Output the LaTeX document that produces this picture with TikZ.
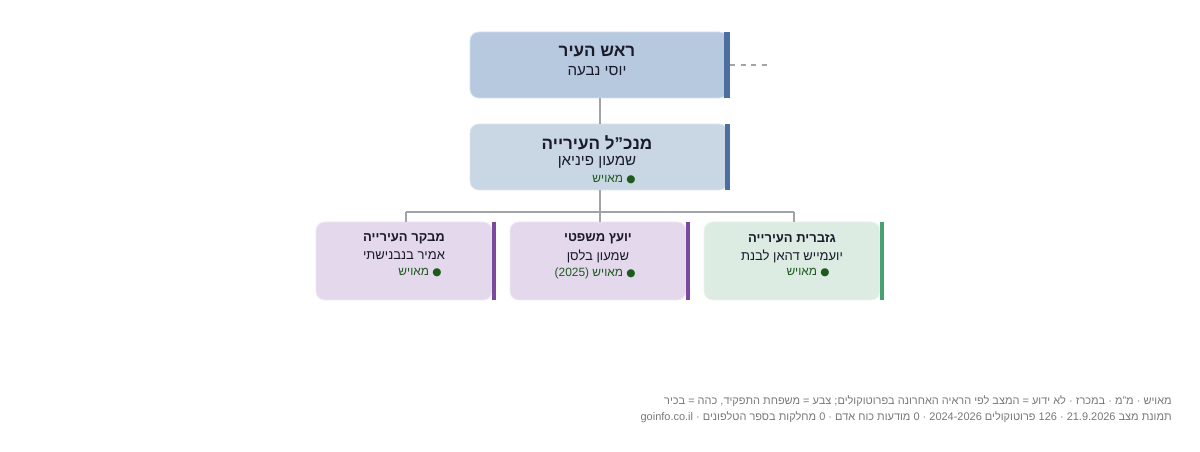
\documentclass[tikz,border=0pt]{standalone}
\usepackage{fontspec}
\setmainfont[Script=Hebrew]{Liberation Sans}
\newfontfamily\symfont{DejaVu Sans}
\TeXXeTstate=1
\newcommand{\heb}[1]{\beginR #1\endR}
\newcommand{\okdot}{{\symfont\fontsize{6}{6}\selectfont ●}}
\definecolor{topfill}{HTML}{B7C9DE}
\definecolor{midfill}{HTML}{C9D6E4}
\definecolor{bluebar}{HTML}{4A6FA0}
\definecolor{purfill}{HTML}{E4D8EC}
\definecolor{purbar}{HTML}{7B4A9E}
\definecolor{grnfill}{HTML}{DCECE2}
\definecolor{grnbar}{HTML}{4AA070}
\definecolor{okgreen}{HTML}{1E5A1E}
\definecolor{linegray}{HTML}{A0A4A8}
\definecolor{txtgray}{HTML}{777777}
\definecolor{ink}{HTML}{1A1A2A}
\begin{document}
\begin{tikzpicture}[x=0.02cm,y=-0.02cm,
  box/.style={draw=#1!60!white,line width=0.5pt,rounded corners=5pt},
  wire/.style={draw=linegray,line width=0.8pt},
  bar/.style={fill=#1,draw=none},
  txt/.style={inner sep=0pt,align=center,text=ink,font=\fontsize{7.4}{9}\selectfont},
  big/.style={inner sep=0pt,text=ink,font=\fontsize{9.7}{11}\selectfont},
  pname/.style={inner sep=0pt,text=ink,font=\fontsize{8.6}{10}\selectfont},
  stat/.style={inner sep=0pt,text=okgreen,font=\fontsize{6.8}{8}\selectfont}]
\useasboundingbox (0,0) rectangle (1200,452);
% top
\filldraw[box=topfill,fill=topfill] (470,32) rectangle (728,98);
\fill[bar=bluebar] (724,32) rectangle (730,98);
\node[big] (maytitle) at (597,52) {\textbf{\heb{ראש העיר}}};
\node[pname] (mayname) at (597,71) {\heb{יוסי נבעה}};
\coordinate (topR) at (730,65);
\coordinate (topRe) at (768,65);
\draw[draw=linegray,dashed,line width=0.8pt] (topR) -- (topRe);
% second
\filldraw[box=midfill,fill=midfill] (470,124) rectangle (728,190);
\fill[bar=bluebar] (725,124) rectangle (730,190);
\node[big] (dgtitle) at (597,143) {\textbf{\heb{מנכ"ל העירייה}}};
\node[pname] (dgname) at (597,162) {\heb{שמעון פיניאן}};
\node[stat,anchor=east] (dgstat) at (636,180) {\heb{\okdot\ מאויש}};
% bottom row
\foreach \x/\fc/\bc/\role/\who/\st in {
  316/purfill/purbar/{מבקר העירייה}/{אמיר בנבנישתי}/{מאויש},
  510/purfill/purbar/{יועץ משפטי}/{שמעון בלסן}/{מאויש (2025)},
  704/grnfill/grnbar/{גזברית העירייה}/{יועמייש דהאן לבנת}/{מאויש}}
{
  \filldraw[box=\fc,fill=\fc] (\x,222) rectangle ({\x+176},300);
  \fill[bar=\bc] ({\x+176},222) rectangle ({\x+180},300);
  \node[txt] at ({\x+88},239) {\textbf{\heb{\role}}};
  \node[txt] at ({\x+88},256) {\heb{\who}};
  \node[stat,anchor=east] at ({\x+126},273) {\heb{\okdot\ \st}};
}
% connectors
\coordinate (j1) at (600,98);
\coordinate (j2) at (600,124);
\coordinate (j3) at (600,190);
\coordinate (j4) at (600,212);
\coordinate (l) at (406,212);
\coordinate (r) at (794,212);
\draw[wire] (j1) -- (j2);
\draw[wire] (j3) -- (j4);
\draw[wire] (l) -- (r);
\draw[wire] (l) -- (406,222);
\draw[wire] (j4) -- (600,222);
\draw[wire] (r) -- (794,222);
% footer
\node[txt,anchor=east,text=txtgray,font=\fontsize{6.25}{8}\selectfont] (foot1) at (1172,401) {\heb{מאויש · מ"מ · במכרז · לא ידוע = המצב לפי הראיה האחרונה בפרוטוקולים; צבע = משפחת התפקיד, כהה = בכיר}};
\node[txt,anchor=east,text=txtgray,font=\fontsize{6.25}{8}\selectfont] (foot2) at (1172,417) {\heb{תמונת מצב 21.9.2026 · 126 פרוטוקולים 2024-2026 · 0 מודעות כוח אדם · 0 מחלקות בספר הטלפונים · goinfo.co.il}};
\end{tikzpicture}
\end{document}
